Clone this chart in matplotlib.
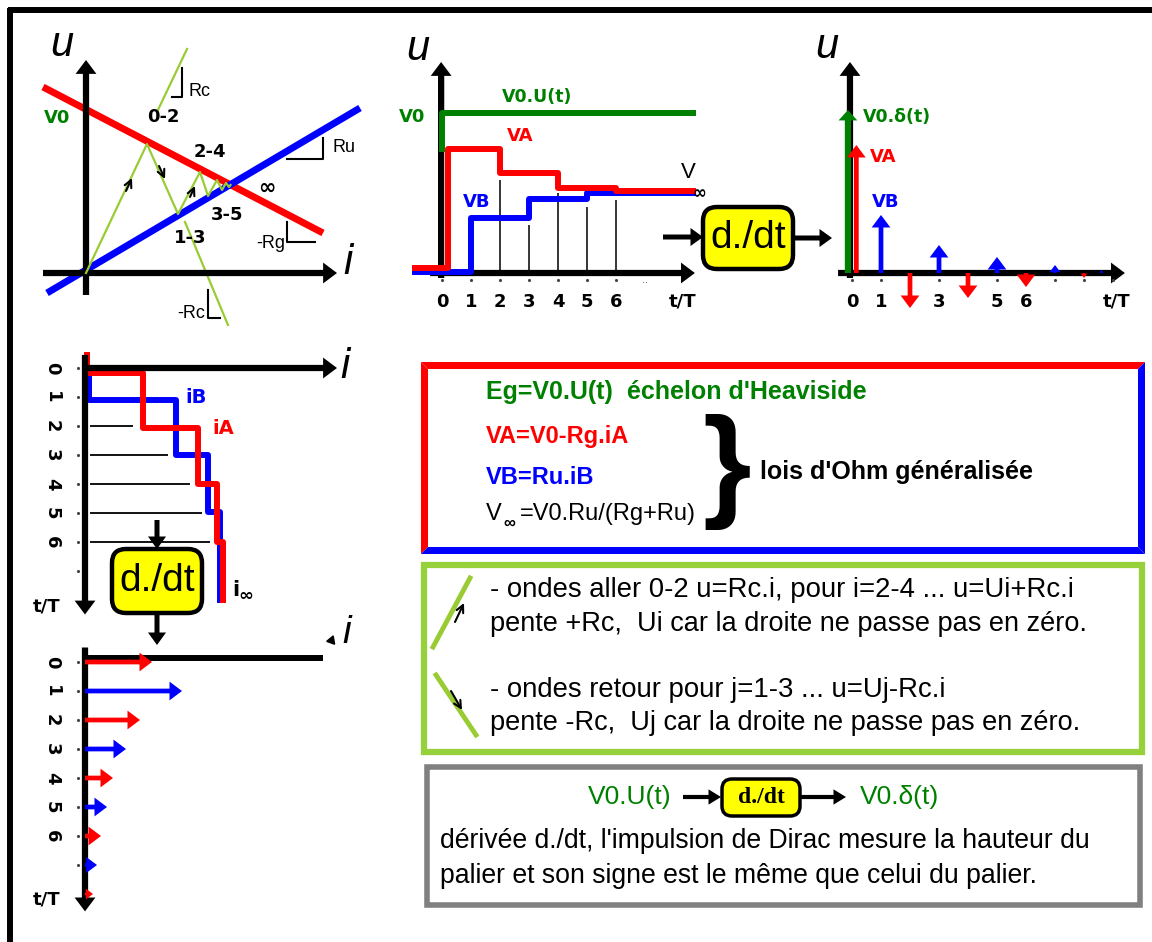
import matplotlib
matplotlib.use("Agg")
import matplotlib.pyplot as plt
from matplotlib.patches import FancyBboxPatch, Polygon, Rectangle

W, H = 1152, 942

RED = "#ff0000"
BLUE = "#0000ff"
GREEN = "#008000"
LIME = "#99cc33"
BOX_GREEN = "#96d13b"
YELLOW = "#ffff00"

# ---- panel 1 : u(i) plane, generator line, load line, bounce diagram
GEN_I = [-0.43, 2.37]
GEN_U = [1.86, 0.40]
LOAD_I = [-0.39, 2.74]
LOAD_U = [-0.20, 1.65]
BOUNCE_I = [0.0, 0.61, 0.92, 1.14, 1.22, 1.31, 1.36, 1.40, 1.43, 1.445]
BOUNCE_U = [0.0, 1.29, 0.59, 1.01, 0.77, 0.93, 0.83, 0.90, 0.86, 0.88]
RC_UP_I = [0.71, 1.01]
RC_UP_U = [1.61, 2.24]
RC_DOWN_I = [0.99, 1.42]
RC_DOWN_U = [0.51, -0.52]
BOUNCE_LABELS = ["0-2", "2-4", "3-5", "1-3"]
BOUNCE_LABEL_I = [0.77, 1.24, 1.41, 1.04]
BOUNCE_LABEL_U = [1.56, 1.21, 0.58, 0.35]

# ---- panel 2 : voltages VA, VB versus t/T
V0 = 1.6
VA_T = [-0.93, 0.2, 2, 4, 6, 8.65]
VA = [0.05, 1.24, 1.00, 0.85, 0.82, 0.82]
VB_T = [-0.93, 1, 3, 5, 8.65]
VB = [0.01, 0.55, 0.74, 0.80, 0.80]
GRID_T = [2, 3, 4, 5, 6]
GRID_U = [0.93, 0.48, 0.80, 0.66, 0.73]
TICKS = [0, 1, 2, 3, 4, 5, 6]

# ---- panel 3 : derivative, Dirac impulses
DIRAC_V0 = 1.63
DIRAC_T = [0.15, 1, 2, 3, 4, 5, 6, 7, 8, 8.6]
DIRAC_H = [1.28, 0.58, -0.35, 0.28, -0.25, 0.16, -0.14, 0.08, -0.05, 0.03]
DIRAC_TICKS = [0, 1, 3, 5, 6]

# ---- panel 4 : currents iA, iB (time downwards)
IA_T = [0.17, 2.07, 4.0, 6.0]
IA = [0.58, 1.13, 1.32, 1.38]
IB_T = [1.1, 3.0, 4.97]
IB = [0.91, 1.23, 1.35]
IGRID_T = [2, 3, 4, 5, 6]
IGRID_I = [0.48, 0.83, 1.05, 1.17, 1.25]

# ---- panel 5 : current impulses
IMP_T = [0, 1, 2, 3, 4, 5, 6, 7, 8]
IMP_I = [0.67, 0.97, 0.55, 0.41, 0.28, 0.22, 0.16, 0.12, 0.08]

plt.rcParams["font.family"] = ["Liberation Sans", "DejaVu Sans"]

fig = plt.figure(figsize=(W / 100, H / 100), dpi=100)
base = fig.add_axes([0, 0, 1, 1])
base.set_xlim(0, W)
base.set_ylim(H, 0)
base.axis("off")

BOLD = dict(family="DejaVu Sans", fontweight="bold")
SMALL_ARROW = dict(arrowstyle="->", lw=1.5, color="black", shrinkA=0, shrinkB=0, mutation_scale=13)


def make_panel(box, origin, scale, t_down=False):
    x0, y0, x1, y1 = box
    ox, oy = origin
    sx, sy = scale
    ax = fig.add_axes([x0 / W, 1 - y1 / H, (x1 - x0) / W, (y1 - y0) / H])
    ax.set_xlim((x0 - ox) / sx, (x1 - ox) / sx)
    if t_down:
        ax.set_ylim((y1 - oy) / sy, (y0 - oy) / sy)
    else:
        ax.set_ylim((oy - y1) / sy, (oy - y0) / sy)
    ax.axis("off")
    return ax


def arrow(ax, start, end, color="black", tail=0.45, head_w=1.5, head_l=1.0, scale=10, z=4):
    style = f"simple,head_length={head_l},head_width={head_w},tail_width={tail}"
    ax.annotate("", xy=end, xytext=start,
                arrowprops=dict(arrowstyle=style, fc=color, ec=color, lw=0,
                                shrinkA=0, shrinkB=0, mutation_scale=scale),
                zorder=z, annotation_clip=False)


def impulse(ax, pos, h, color, vertical=True, px_per_unit=100):
    # shrink the arrow head for the very small impulses
    length_px = abs(h) * px_per_unit
    scale = min(10, length_px / (0.9 * 1.389) * 0.9)
    if vertical:
        arrow(ax, (pos, 0), (pos, h), color, tail=0.34, head_w=1.35, head_l=0.9, scale=scale)
    else:
        arrow(ax, (0, pos), (h, pos), color, tail=0.34, head_w=1.35, head_l=0.9, scale=scale)


def stair_down(levels, times, i0, t0, t1):
    xs, ys = [i0], [t0]
    cur = i0
    for t, lv in zip(times, levels):
        xs += [cur, lv]
        ys += [t, t]
        cur = lv
    xs.append(cur)
    ys.append(t1)
    return xs, ys


def dt_box(x, y, w, h, size=28, weight="normal", family="Liberation Sans", lw=3.2, r=14):
    base.add_patch(FancyBboxPatch((x, y), w, h, boxstyle=f"round,pad=0,rounding_size={r}",
                                  fc=YELLOW, ec="black", lw=lw, zorder=5))
    base.text(x + w / 2, y + h / 2, "d./dt", ha="center", va="center", fontsize=size,
              fontweight=weight, family=family, zorder=6)


# outer frame (top and left edges)
base.plot([8, W], [10, 10], color="black", lw=4.3, solid_capstyle="butt")
base.plot([10, 10], [8, H], color="black", lw=4.3, solid_capstyle="butt")

# ================= panel 1
p1 = make_panel((20, 20, 378, 345), (86, 273), (100, 100))
arrow(p1, (0, -0.22), (0, 2.13))
arrow(p1, (-0.43, 0), (2.51, 0))
p1.plot(GEN_I, GEN_U, color=RED, lw=5, zorder=3, solid_capstyle="butt")
p1.plot(LOAD_I, LOAD_U, color=BLUE, lw=5, zorder=3, solid_capstyle="butt")
p1.plot(BOUNCE_I, BOUNCE_U, color=LIME, lw=1.6, zorder=4)
p1.plot(RC_UP_I, RC_UP_U, color=LIME, lw=1.6)
p1.plot(RC_DOWN_I, RC_DOWN_U, color=LIME, lw=1.6)
for s, e in [((0.40, 0.82), (0.46, 0.95)), ((0.73, 1.07), (0.79, 0.94)), ((1.04, 0.76), (1.09, 0.87))]:
    p1.annotate("", xy=e, xytext=s, arrowprops=SMALL_ARROW, zorder=5)
# slope marks
p1.plot([0.86, 0.96, 0.96], [1.76, 1.76, 2.05], color="black", lw=1.5)
p1.plot([1.22, 1.22, 1.34], [-0.17, -0.45, -0.45], color="black", lw=1.5)
p1.plot([2.01, 2.37, 2.37], [1.14, 1.14, 1.35], color="black", lw=1.5)
p1.plot([2.01, 2.01, 2.29], [0.51, 0.31, 0.31], color="black", lw=1.5)
p1.text(1.02, 1.82, "Rc", fontsize=13, va="center")
p1.text(1.19, -0.40, "-Rc", fontsize=13, va="center", ha="right")
p1.text(2.46, 1.26, "Ru", fontsize=13, va="center")
p1.text(1.99, 0.30, "-Rg", fontsize=13, va="center", ha="right")
for lab, x, y in zip(BOUNCE_LABELS, BOUNCE_LABEL_I, BOUNCE_LABEL_U):
    p1.text(x, y, lab, fontsize=13, ha="center", va="center", **BOLD)
p1.text(1.81, 0.85, "∞", fontsize=15, ha="center", va="center", **BOLD)
p1.text(-0.29, 1.55, "V0", fontsize=13, ha="center", va="center", color=GREEN, **BOLD)
p1.text(-0.24, 2.28, "u", fontsize=30, ha="center", va="center", style="italic")
p1.text(2.62, 0.10, "i", fontsize=30, ha="center", va="center", style="italic")

# ================= panel 2
p2 = make_panel((385, 20, 705, 320), (442, 273), (29, 100))
arrow(p2, (-0.41, 0), (8.72, 0), z=2)
arrow(p2, (-0.03, -0.05), (-0.03, 2.11), z=2)
p2.step(VB_T, VB, where="post", color=BLUE, lw=4.3, zorder=3)
p2.step(VA_T, VA, where="post", color=RED, lw=4.3, zorder=3)
p2.plot([0, 0, 8.65], [VA[1], V0, V0], color=GREEN, lw=4.3, zorder=3)
p2.vlines(GRID_T, 0, GRID_U, color="black", lw=1.1, zorder=2)
p2.plot(TICKS, [-0.07] * len(TICKS), ls="none", marker=".", ms=2.5, color="#444444")
p2.text(7.0, -0.07, "..", fontsize=8, ha="center", va="center", color="#444444")
for t in TICKS:
    p2.text(t, -0.29, str(t), fontsize=13, ha="center", va="center", **BOLD)
p2.text(8.28, -0.29, "t/T", fontsize=13, ha="center", va="center", **BOLD)
p2.text(-1.03, 1.56, "V0", fontsize=13, ha="center", va="center", color=GREEN, **BOLD)
p2.text(3.28, 1.76, "V0.U(t)", fontsize=12.5, ha="center", va="center", color=GREEN, **BOLD)
p2.text(2.69, 1.37, "VA", fontsize=13, ha="center", va="center", color=RED, **BOLD)
p2.text(1.21, 0.71, "VB", fontsize=13, ha="center", va="center", color=BLUE, **BOLD)
p2.text(8.48, 1.00, "V", fontsize=16, ha="center", va="center")
p2.text(8.88, 0.80, "∞", fontsize=12, ha="center", va="center", **BOLD)
p2.text(-0.83, 2.24, "u", fontsize=30, ha="center", va="center", style="italic")

# ================= panel 3
p3 = make_panel((800, 20, 1150, 320), (852, 273), (29, 100))
arrow(p3, (-0.48, 0), (9.41, 0), z=2)
arrow(p3, (-0.07, -0.05), (-0.07, 2.11), z=2)
arrow(p3, (-0.14, 0), (-0.14, DIRAC_V0), GREEN, tail=0.45, head_w=1.35, head_l=0.75, z=4)
for k, (t, h) in enumerate(zip(DIRAC_T, DIRAC_H)):
    impulse(p3, t, h, RED if k % 2 == 0 else BLUE)
p3.plot(range(0, 10), [-0.07] * 10, ls="none", marker=".", ms=2.5, color="#444444")
for t in DIRAC_TICKS:
    p3.text(t, -0.29, str(t), fontsize=13, ha="center", va="center", **BOLD)
p3.text(9.14, -0.29, "t/T", fontsize=13, ha="center", va="center", **BOLD)
p3.text(0.38, 1.56, "V0.δ(t)", fontsize=12.5, va="center", color=GREEN, **BOLD)
p3.text(0.62, 1.16, "VA", fontsize=13, va="center", color=RED, **BOLD)
p3.text(0.69, 0.71, "VB", fontsize=13, va="center", color=BLUE, **BOLD)
p3.text(-0.86, 2.26, "u", fontsize=30, ha="center", va="center", style="italic")

# middle d./dt block
arrow(base, (663, 237), (703, 237), tail=0.36, head_w=1.3, head_l=0.9)
dt_box(703, 207, 90, 62)
arrow(base, (793, 238), (832, 238), tail=0.36, head_w=1.3, head_l=0.9)

# ================= panel 4
p4 = make_panel((20, 340, 380, 625), (85, 368), (100, 29), t_down=True)
arrow(p4, (0, -0.45), (0, 8.5))
arrow(p4, (0, 0), (2.52, 0))
xs, ys = stair_down(IB, IB_T, 0.04, 0.17, 8.0)
p4.plot(xs, ys, color=BLUE, lw=4.3, zorder=3)
xs, ys = stair_down(IA, IA_T, 0.02, -0.45, 8.0)
p4.plot(xs, ys, color=RED, lw=4.3, zorder=3)
p4.hlines(IGRID_T, 0.05, IGRID_I, color="black", lw=1.3, zorder=2)
p4.plot([-0.07] * 8, range(0, 8), ls="none", marker=".", ms=2.5, color="#444444")
for t in TICKS:
    p4.text(-0.33, t, str(t), fontsize=13, rotation=-90, ha="center", va="center", **BOLD)
p4.text(-0.38, 8.24, "t/T", fontsize=13, ha="center", va="center", **BOLD)
p4.text(1.00, 1.03, "iB", fontsize=14, va="center", color=BLUE, **BOLD)
p4.text(1.27, 2.07, "iA", fontsize=14, va="center", color=RED, **BOLD)
p4.text(1.47, 7.66, "i", fontsize=15, va="center", **BOLD)
p4.text(1.535, 7.85, "∞", fontsize=13, va="center", **BOLD)
p4.text(2.60, -0.05, "i", fontsize=30, ha="center", va="center", style="italic")

arrow(base, (157, 520), (157, 549), tail=0.36, head_w=1.3, head_l=0.9)
dt_box(112, 549, 90, 64)
arrow(base, (157, 613), (157, 645), tail=0.36, head_w=1.3, head_l=0.9)

# ================= panel 5
p5 = make_panel((20, 625, 380, 935), (85, 662), (100, 29), t_down=True)
arrow(p5, (0, -0.5), (0, 8.6))
p5.plot([0, 2.38], [-0.14, -0.14], color="black", lw=4.3, solid_capstyle="butt")
p5.plot([2.46], [-0.75], marker=(3, 0, -20), ms=7, color="black")
p5.text(2.62, -1.0, "i", fontsize=28, ha="center", va="center", style="italic")
for k, (t, v) in enumerate(zip(IMP_T, IMP_I)):
    impulse(p5, t, v, RED if k % 2 == 0 else BLUE, vertical=False)
p5.plot([-0.07] * 8, range(0, 8), ls="none", marker=".", ms=2.5, color="#444444")
for t in TICKS:
    p5.text(-0.33, t, str(t), fontsize=13, rotation=-90, ha="center", va="center", **BOLD)
p5.text(-0.38, 8.2, "t/T", fontsize=13, ha="center", va="center", **BOLD)

# ================= box 1 : Ohm's laws
L, R, T, B, d = 421, 1145, 362, 554, 7
base.add_patch(Polygon([(L, T), (R, T), (R - d, T + d), (L + d, T + d)], fc=RED, ec="none"))
base.add_patch(Polygon([(L, T), (L + d, T + d), (L + d, B - d), (L, B)], fc=RED, ec="none"))
base.add_patch(Polygon([(R, T), (R, B), (R - d, B - d), (R - d, T + d)], fc=BLUE, ec="none"))
base.add_patch(Polygon([(L, B), (R, B), (R - d, B - d), (L + d, B - d)], fc=BLUE, ec="none"))
base.text(486, 392, "Eg=V0.U(t)  échelon d'Heaviside", fontsize=18, fontweight="bold", color=GREEN, va="center")
base.text(486, 437, "VA=V0-Rg.iA", fontsize=17, fontweight="bold", color=RED, va="center")
base.text(486, 478, "VB=Ru.iB", fontsize=17, fontweight="bold", color=BLUE, va="center")
base.text(486, 514, "V", fontsize=17, color="black", va="center")
base.text(503, 523, "∞", fontsize=12, color="black", va="center", fontweight="bold")
base.text(520, 514, "=V0.Ru/(Rg+Ru)", fontsize=17, color="black", va="center")
base.text(727, 472, "}", fontsize=90, fontweight="bold", ha="center", va="center")
base.text(760, 472, "lois d'Ohm généralisée", fontsize=18, fontweight="bold", va="center")

# ================= box 2 : forward / backward waves
base.add_patch(Rectangle((424, 565), 718, 187, fc="none", ec=BOX_GREEN, lw=4.5))
base.plot([433, 470], [647, 578], color=LIME, lw=3.5)
base.annotate("", xy=(464, 603), xytext=(455, 622), arrowprops=SMALL_ARROW)
base.plot([436, 476], [675, 735], color=LIME, lw=3.5)
base.annotate("", xy=(462, 710), xytext=(451, 691), arrowprops=SMALL_ARROW)
base.text(490, 590, "- ondes aller 0-2 u=Rc.i, pour i=2-4 ... u=Ui+Rc.i", fontsize=19.8, va="center")
base.text(490, 624, "pente +Rc,  Ui car la droite ne passe pas en zéro.", fontsize=19.5, va="center")
base.text(490, 690, "- ondes retour pour j=1-3 ... u=Uj-Rc.i", fontsize=19.8, va="center")
base.text(490, 723, "pente -Rc,  Uj car la droite ne passe pas en zéro.", fontsize=19.5, va="center")

# ================= box 3 : derivative
base.add_patch(Rectangle((427, 767), 713, 138, fc="none", ec="#808080", lw=4))
base.text(588, 797, "V0.U(t)", fontsize=19, color=GREEN, va="center")
arrow(base, (683, 797), (721, 797), tail=0.3, head_w=1.1, head_l=0.9)
dt_box(722, 779, 78, 37, size=17, weight="bold", family="Liberation Serif", lw=2.5, r=10)
arrow(base, (800, 797), (846, 797), tail=0.3, head_w=1.1, head_l=0.9)
base.text(860, 797, "V0.δ(t)", fontsize=19, color=GREEN, va="center")
base.text(440, 841, "dérivée d./dt, l'impulsion de Dirac mesure la hauteur du", fontsize=19.2, va="center")
base.text(440, 876, "palier et son signe est le même que celui du palier.", fontsize=19.2, va="center")

fig.savefig("out.png", dpi=100)
